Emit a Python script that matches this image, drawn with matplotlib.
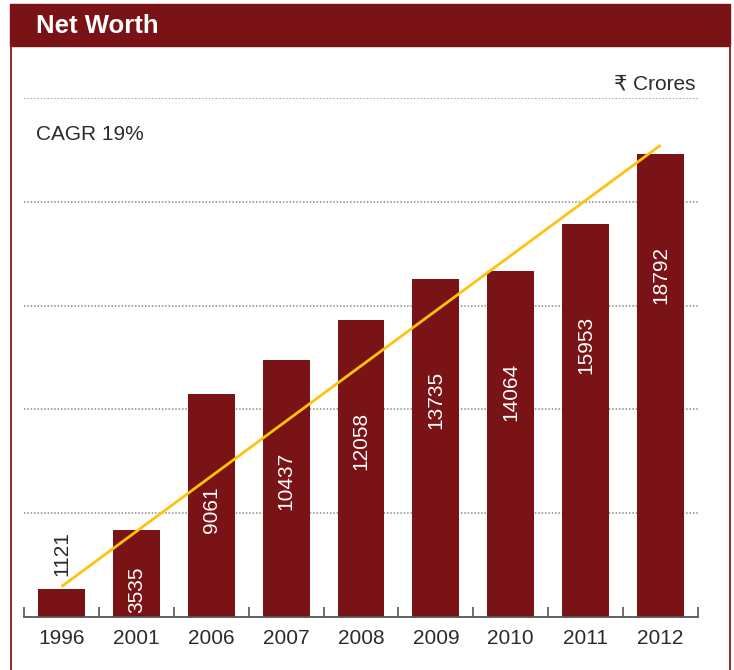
import matplotlib
matplotlib.use("Agg")
import matplotlib.pyplot as plt
from matplotlib.patches import Rectangle
from matplotlib.lines import Line2D
import numpy as np

years = ["1996", "2001", "2006", "2007", "2008", "2009", "2010", "2011", "2012"]
net_worth = [1121, 3535, 9061, 10437, 12058, 13735, 14064, 15953, 18792]
title = "Net Worth"
unit_label = "₹ Crores"
cagr_label = "CAGR 19%"

BAR = "#7a1315"
FRAME = "#8b1a1d"
YELLOW = "#ffc20e"
TXT = "#2b2b2b"
FONT = ["Liberation Sans", "DejaVu Sans"]
plt.rcParams["font.family"] = FONT

W, H = 734, 670
fig = plt.figure(figsize=(W / 100, H / 100), dpi=100)

# header bar and frame
fig.patches.append(Rectangle((10 / W, 1 - 46 / H), 720 / W, 42 / H,
                             transform=fig.transFigure, color=BAR, zorder=0))
fig.text(36 / W, 1 - 26 / H, title, color="white", fontsize=18.5,
         fontweight="bold", va="center", ha="left")
for xf in (10.5 / W, 729.5 / W):
    fig.add_artist(Line2D([xf, xf], [0, 1 - 46 / H], color=FRAME, lw=1.3,
                          transform=fig.transFigure))

ax = fig.add_axes([24 / W, 53 / H, 674 / W, 519 / H])
x = np.arange(len(years))
ymax = 21084
ax.set_xlim(-0.5, len(years) - 0.5)
ax.set_ylim(0, ymax)

ax.bar(x, net_worth, width=0.627, color=BAR, zorder=2)

# dotted grid lines
ax.set_yticks(np.linspace(0, ymax, 6)[1:])
ax.yaxis.grid(True, linestyle=(0, (1, 1.2)), color="#8a8a8a", lw=1.1, zorder=0)
ax.tick_params(axis="y", left=False, labelleft=False)
ax.set_axisbelow(True)
for s in ("left", "right", "top"):
    ax.spines[s].set_visible(False)
ax.spines["bottom"].set_color("#555555")
ax.spines["bottom"].set_linewidth(1.3)
ax.spines["bottom"].set_zorder(3)

ax.set_xticks(x)
ax.set_xticklabels(years, fontsize=15, color=TXT)
ax.set_xticks(np.arange(len(years) + 1) - 0.5, minor=True)
ax.tick_params(axis="x", which="major", length=0, pad=9)
ax.tick_params(axis="x", which="minor", direction="in", length=7,
               width=1.2, color="#555555")

# CAGR trend line
ax.plot([x[0], x[-1]], [net_worth[0] * 1.1, net_worth[-1] * 1.02],
        color=YELLOW, lw=2, zorder=4, solid_capstyle="butt")

# value labels
fig.canvas.draw()
px_per_unit = ax.transData.transform((0, 1))[1] - ax.transData.transform((0, 0))[1]
for xi, v in zip(x, net_worth):
    h_px = v * px_per_unit
    if h_px < 60:
        ax.annotate(str(v), (xi, v), xytext=(0, 13), textcoords="offset pixels",
                    rotation=90, ha="center", va="bottom", fontsize=15, color=TXT)
    elif h_px < 145:
        ax.annotate(str(v), (xi, 0), xytext=(0, 4), textcoords="offset pixels",
                    rotation=90, ha="center", va="bottom", fontsize=15, color="white",
                    zorder=5)
    else:
        ax.annotate(str(v), (xi, v), xytext=(0, -92), textcoords="offset pixels",
                    rotation=90, ha="center", va="top", fontsize=15, color="white",
                    zorder=5)

fig.text(695 / W, 1 - 84 / H, unit_label, fontsize=15, color=TXT,
         ha="right", va="center", family=FONT)
fig.text(36 / W, 1 - 135 / H, cagr_label, fontsize=15, color=TXT,
         ha="left", va="center")

fig.savefig("out.png", dpi=100)
